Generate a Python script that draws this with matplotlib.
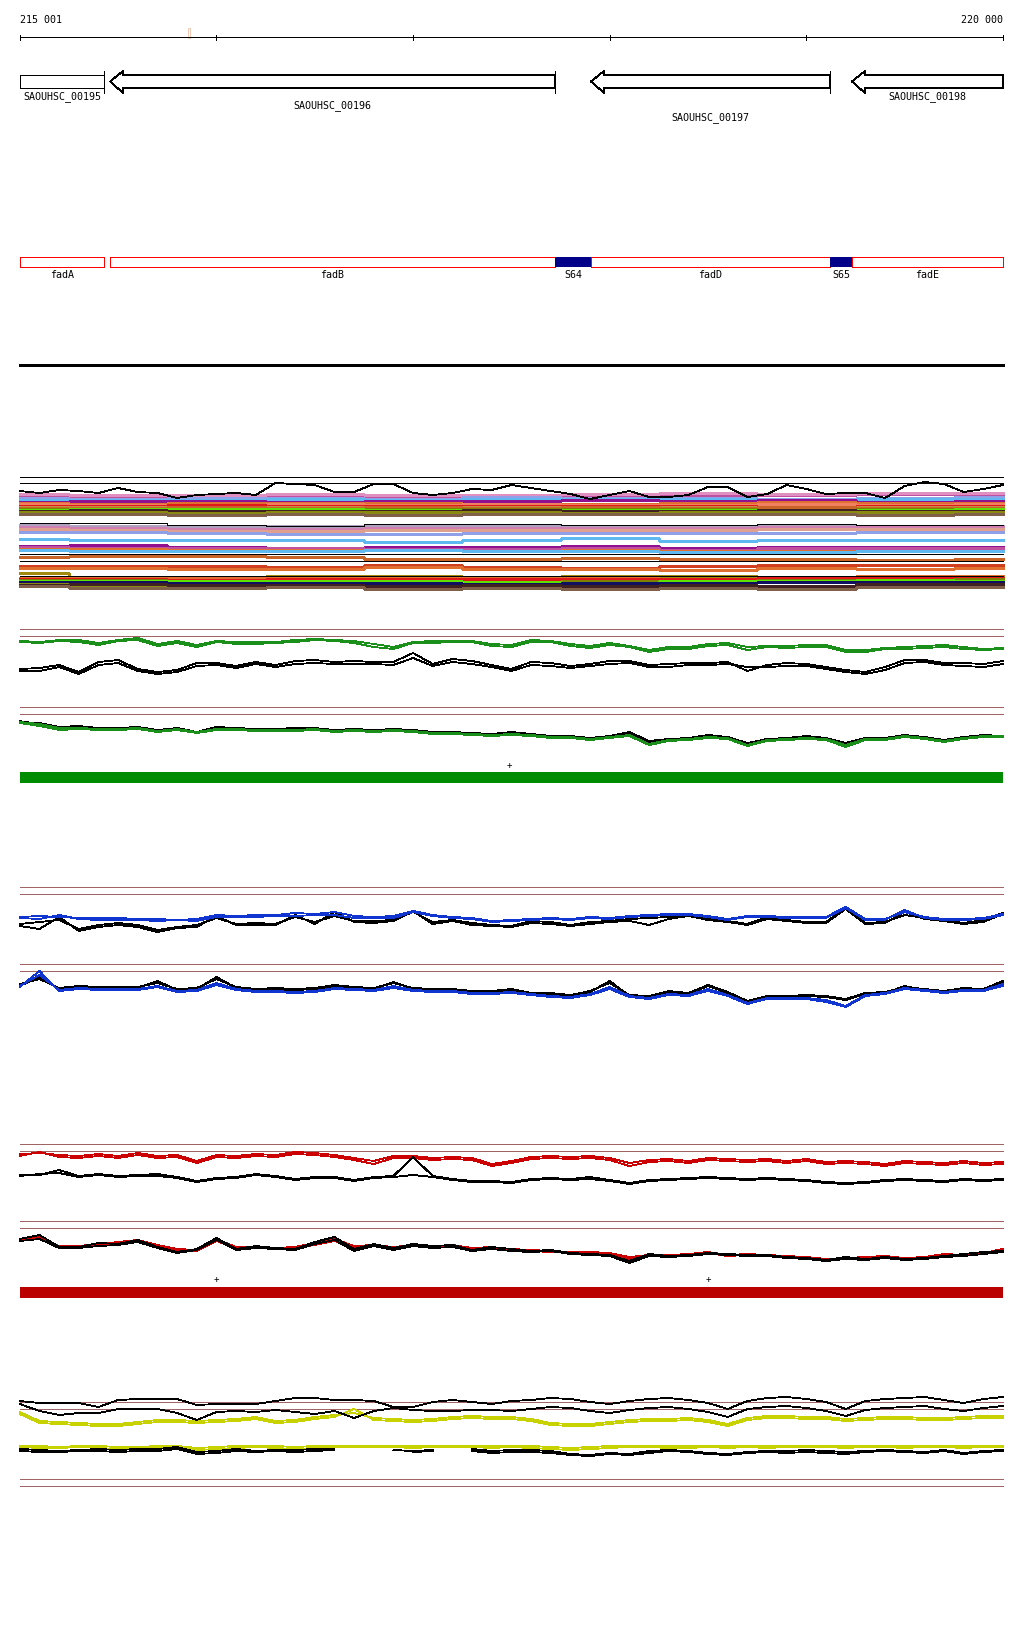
import numpy as np
import matplotlib
matplotlib.use('Agg')
import matplotlib.pyplot as plt
from matplotlib.patches import Rectangle, Polygon

plt.rcParams['font.family'] = ['DejaVu Sans Mono', 'DejaVu Sans']
FS = 7.2
LW = 0.6

# ---- view window / ruler ----
view_start = 215001
view_end = 220000
tick_pos = [216000, 217000, 218000, 219000]
marker_pos = 215860

# ---- genes (all reverse strand) ----
gene_names = ['SAOUHSC_00195', 'SAOUHSC_00196', 'SAOUHSC_00197', 'SAOUHSC_00198']
gene_start = [215001, 215459, 217905, 219232]
gene_end = [215428, 217722, 219120, 220000]
gene_tip = [False, True, True, True]     # arrow head inside the view
gene_bar = [True, True, True, False]     # start bar inside the view
gene_row = [0, 1, 2, 0]

# ---- annotation features ----
feat_names = ['fadA', 'fadB', 'S64', 'fadD', 'S65', 'fadE']
feat_start = [215001, 215459, 217722, 217905, 219120, 219232]
feat_end = [215428, 217722, 217905, 219120, 219232, 220000]
feat_kind = ['cds', 'cds', 'srna', 'cds', 'srna', 'cds']

# ---- coverage tracks, 100 bp bins (values in track rows) ----
wig_pos = np.arange(215000, 220001, 100)
nan = np.nan

cov_top = [492,494,491,492,494,489,493,494,499,496,495,494,496,484,485,486,493,493,485,485,494,496,494,490,491,
           486,489,492,495,500,496,492,498,498,496,488,488,498,495,486,490,495,494,494,499,487,483,485,493,490,486]

a1_green1 = [642,643,641,641,644,641,639,645,642,646,642,643,643,643,641,640,641,642,645,648,643,642,642,642,645,
             646,641,642,645,647,644,647,651,648,648,645,644,648,647,647,646,646,651,651,649,648,647,646,648,650,649]
a1_green2 = [643,644,642,643,646,642,641,647,644,648,643,645,645,644,643,641,642,644,648,650,644,644,643,643,647,
             648,643,643,647,649,646,648,653,650,650,647,646,651,648,649,648,648,653,653,650,650,649,648,650,651,650]
a1_black1 = [670,669,666,673,663,661,670,673,671,664,664,667,663,666,662,661,663,662,663,663,654,665,660,662,666,
             670,663,664,667,665,662,662,666,665,664,664,663,672,666,664,665,668,671,673,668,661,661,664,664,665,662]
a1_black2 = [672,672,668,675,666,664,672,675,673,667,666,669,665,668,665,664,665,665,665,666,659,667,663,665,668,
             672,666,667,669,667,665,664,668,668,666,666,665,668,668,667,667,670,673,675,671,664,663,666,667,668,665]

a2_black1 = [723,724,728,727,729,729,728,731,729,733,728,729,730,730,729,729,731,730,731,730,731,733,733,734,735,
             733,735,737,737,739,737,733,742,740,739,736,738,744,740,739,737,739,744,739,739,736,738,741,738,736,737]
a2_black2 = [722,726,730,728,730,731,729,733,731,734,729,731,731,731,730,730,733,731,732,731,732,734,735,736,736,
             734,736,738,739,741,738,735,744,741,741,737,739,747,742,740,738,740,747,740,740,737,740,743,739,737,738]
a2_green1 = [723,725,729,729,730,730,729,732,730,733,730,730,731,731,731,730,732,731,732,731,732,734,734,735,736,
             735,736,738,738,740,738,736,745,741,740,738,739,746,741,740,739,740,746,740,740,737,739,742,739,737,737]
a2_green2 = [724,727,731,730,731,731,730,733,731,734,731,731,732,732,732,731,733,732,733,732,733,735,735,736,737,
             736,737,739,739,741,739,737,746,742,741,739,740,747,742,741,740,741,748,741,741,738,740,743,740,738,738]

b1_blue1 = [918,917,918,919,919,919,920,920,921,920,916,917,916,916,914,915,913,917,918,917,912,916,918,919,922,
            921,920,919,920,918,919,917,916,915,915,917,920,917,917,918,918,918,908,920,920,913,918,920,920,919,915]
b1_blue2 = [919,920,916,920,921,921,921,922,921,922,918,918,918,917,917,916,916,919,919,919,913,917,919,920,923,
            922,921,920,921,919,920,918,917,916,916,918,921,918,918,919,919,919,909,921,921,911,919,921,921,920,916]
b1_black1 = [925,923,921,930,926,924,926,931,928,926,919,925,924,925,918,923,917,922,922,921,913,923,921,924,926,
             927,922,923,926,923,922,920,919,918,916,919,922,925,918,921,923,923,909,924,923,916,919,921,924,921,914]
b1_black2 = [927,930,918,932,928,926,928,933,929,928,917,926,926,926,916,925,913,923,924,922,912,925,922,926,927,
             928,924,925,927,925,923,922,926,920,917,921,923,926,920,922,924,924,910,925,924,913,920,922,925,923,915]

b2_black1 = [985,980,989,987,988,988,988,984,990,989,980,988,990,989,990,989,986,988,989,984,989,990,990,992,992,
             990,994,994,996,992,984,996,997,992,994,986,993,1002,997,997,996,997,1000,994,993,988,990,992,989,990,982]
b2_black2 = [987,978,990,988,989,989,989,982,991,990,978,989,991,991,991,990,987,989,990,983,990,991,991,993,993,
             991,995,995,997,993,982,997,998,993,995,987,994,1003,998,998,997,998,1001,995,994,987,991,993,990,991,983]
b2_blue1 = [987,976,991,989,990,990,990,987,992,991,984,990,992,992,993,992,989,990,991,987,991,992,992,994,994,
            993,995,997,998,995,988,997,999,995,996,990,996,1004,999,999,999,1001,1007,996,994,989,991,993,991,991,985]
b2_blue2 = [988,972,992,990,991,991,991,988,993,992,986,991,993,993,994,993,990,991,992,989,992,993,993,995,995,
            994,996,998,999,996,990,998,1000,996,997,992,997,1005,1000,1000,1000,1003,1008,997,995,990,992,994,992,992,987]

c1_red1 = [1155,1154,1156,1157,1155,1157,1154,1157,1156,1162,1156,1157,1155,1156,1153,1154,1156,1159,1162,1157,1157,
           1159,1158,1159,1165,1162,1158,1157,1158,1157,1159,1164,1161,1160,1162,1159,1160,1161,1160,1162,1160,1163,
           1162,1163,1165,1162,1163,1164,1162,1164,1163]
c1_red2 = [1157,1153,1158,1159,1157,1159,1156,1159,1158,1164,1158,1159,1157,1158,1155,1156,1158,1161,1165,1159,1159,
           1161,1160,1161,1167,1164,1160,1159,1160,1159,1161,1167,1163,1162,1164,1161,1162,1163,1162,1164,1162,1165,
           1164,1165,1167,1164,1165,1166,1164,1166,1165]
c1_black1 = [1176,1176,1171,1177,1175,1177,1176,1175,1178,1182,1179,1178,1175,1177,1180,1178,1178,1181,1178,1177,1158,
             1177,1180,1182,1182,1183,1180,1179,1180,1178,1181,1184,1181,1180,1179,1178,1179,1180,1179,1180,1181,1183,
             1184,1183,1181,1180,1181,1182,1180,1181,1180]
c1_black2 = [1177,1175,1174,1178,1176,1178,1177,1177,1179,1183,1180,1179,1176,1178,1181,1179,1179,1182,1179,1178,1176,
             1178,1181,1183,1183,1184,1181,1180,1181,1180,1182,1185,1182,1181,1180,1179,1180,1181,1180,1181,1182,1184,
             1185,1184,1182,1181,1182,1183,1181,1182,1181]

c2_red1 = [1240,1238,1247,1247,1245,1243,1241,1246,1250,1251,1240,1248,1248,1249,1248,1244,1240,1247,1246,1248,1246,
           1247,1246,1249,1248,1250,1251,1252,1253,1253,1254,1258,1256,1256,1255,1253,1256,1255,1256,1257,1258,1260,
           1259,1258,1257,1259,1258,1255,1256,1254,1250]
c2_red2 = [1241,1239,1248,1248,1246,1244,1242,1247,1251,1252,1242,1249,1249,1250,1249,1246,1242,1248,1247,1249,1247,
           1248,1247,1250,1249,1251,1252,1253,1254,1254,1255,1260,1257,1257,1256,1254,1257,1256,1257,1258,1259,1261,
           1260,1259,1258,1260,1259,1256,1257,1255,1251]
c2_black1 = [1240,1236,1248,1248,1244,1245,1241,1248,1253,1250,1239,1250,1247,1249,1250,1243,1238,1250,1245,1249,1245,
             1247,1246,1251,1248,1250,1252,1251,1254,1255,1256,1262,1255,1257,1256,1254,1255,1256,1256,1258,1259,1261,
             1258,1260,1258,1260,1259,1257,1255,1253,1252]
c2_black2 = [1242,1240,1249,1249,1247,1246,1243,1249,1254,1251,1241,1251,1249,1250,1251,1245,1241,1252,1247,1251,1247,
             1249,1248,1252,1250,1252,1253,1252,1255,1256,1257,1264,1257,1258,1257,1255,1256,1257,1257,1259,1260,1262,
             1260,1261,1259,1261,1260,1258,1257,1255,1253]

d1_black1 = [1402,1404,1404,1404,1408,1401,1400,1400,1400,1406,1405,1405,1405,1402,1399,1399,1401,1401,1402,1408,1408,
             1403,1401,1403,1405,1402,1401,1399,1400,1403,1405,1402,1400,1399,1401,1404,1410,1402,1399,1398,1400,1403,
             1410,1402,1400,1399,1398,1401,1404,1400,1398]
d1_black2 = [1405,1412,1416,1414,1414,1410,1410,1410,1414,1421,1413,1412,1413,1411,1413,1415,1412,1419,1412,1409,1411,
             1412,1412,1411,1411,1412,1410,1408,1409,1412,1414,1411,1409,1408,1410,1413,1418,1410,1408,1407,1409,1412,
             1417,1411,1409,1408,1407,1410,1412,1409,1407]
d1_yellow1 = [1413,1422,1423,1424,1425,1425,1423,1421,1421,1422,1421,1420,1418,1422,1421,1418,1416,1414,1419,1420,1421,
              1420,1418,1417,1418,1418,1420,1424,1425,1425,1423,1421,1420,1420,1419,1421,1425,1419,1417,1417,1418,1418,
              1420,1419,1418,1418,1419,1419,1418,1417,1417]
d1_yellow2 = [1415,1424,1425,1426,1427,1427,1425,1423,1423,1424,1423,1422,1420,1424,1423,1420,1418,1410,1421,1422,1423,
              1422,1420,1419,1420,1420,1422,1426,1427,1427,1425,1423,1422,1422,1421,1423,1427,1421,1419,1419,1420,1420,
              1422,1421,1420,1420,1421,1421,1420,1419,1419]

d2_yellow1 = [1447,1447,1448,1447,1447,1448,1448,1447,1447,1449,1448,1447,1447,1447,1448,1447,1447,1447,1447,1447,1447,
              1447,1447,1447,1447,1447,1447,1448,1449,1448,1447,1447,1447,1447,1447,1447,1447,1447,1447,1447,1447,1447,
              1447,1447,1447,1447,1447,1447,1447,1447,1447]
d2_yellow2 = [1448,1449,1449,1448,1449,1450,1449,1448,1449,1451,1450,1449,1448,1449,1450,1449,1448,1448,1448,1448,1449,
              1448,1448,1448,1449,1448,1449,1450,1451,1450,1449,1448,1448,1449,1449,1448,1449,1448,1449,1448,1448,1448,
              1449,1448,1448,1449,1448,1448,1449,1448,1448]
d2_black1 = [1450,1451,1452,1451,1450,1451,1450,1450,1448,1453,1452,1450,1452,1451,1451,1450,1450,nan,nan,1451,1452,
             1451,nan,1450,1452,1451,1451,1452,1455,1456,1454,1455,1452,1451,1452,1454,1455,1453,1452,1452,1451,1452,
             1453,1452,1451,1452,1453,1451,1454,1452,1451]
d2_black2 = [1452,1453,1453,1452,1452,1453,1452,1452,1450,1455,1454,1452,1453,1452,1453,1452,1451,nan,nan,nan,1453,
             1452,nan,1452,1454,1453,1453,1454,1456,1457,1455,1456,1454,1452,1453,1455,1456,1454,1453,1454,1453,1454,
             1455,1453,1452,1453,1454,1452,1455,1453,1452]

# ---- multi-sample lines, 500 bp bins ----
band_pos = np.arange(215000, 220001, 500)
band_colors = ['#c050a0', '#e090c0', '#90a0e8', '#60b8f0', '#901090', '#e07030', '#f08060', '#e01818',
               '#c09040', '#c86428', '#808000', '#60e000', '#402020', '#8a8a10', '#806048',
               '#b0a0c0', '#d080b0', '#e0a090', '#90a0e8', '#60b8f0', '#901090', '#c050a0', '#e07030', '#60b8f0',
               '#c86428', '#d04020', '#e07030',
               '#a08a10', '#e07030', '#e01818', '#808000', '#60e000', '#101060', '#8a8a10', '#402020', '#806048']
band_levels = [
    [497,498,497,496,497,497,497,497,496,495,495],
    [495,496,496,495,496,496,495,494,495,494,494],
    [499,500,499,499,500,498,499,499,500,499,498],
    [501,501,501,500,501,500,500,500,501,500,500],
    [503,502,502,503,502,502,501,502,501,503,502],
    [504,505,504,504,504,505,505,504,503,504,504],
    [505,506,506,505,506,505,506,506,505,506,505],
    [507,507,506,507,507,507,507,507,508,507,507],
    [508,508,509,508,509,508,509,508,509,508,508],
    [509,509,508,509,508,509,508,509,508,509,509],
    [510,510,511,511,510,510,510,510,511,510,510],
    [511,510,510,510,511,511,511,511,511,511,510],
    [512,511,512,512,512,511,512,512,511,512,512],
    [513,513,514,513,513,513,514,513,513,513,513],
    [515,515,516,515,516,515,515,515,515,516,515],
    [526,527,527,527,527,527,527,527,527,527,527],
    [528,529,530,530,529,529,529,529,528,528,528],
    [530,531,532,532,531,531,531,531,530,530,530],
    [533,533,534,535,535,534,534,534,534,533,533],
    [540,541,541,541,543,541,539,542,541,541,541],
    [547,546,548,549,548,548,547,549,548,548,548],
    [548,549,549,549,550,550,549,551,549,549,549],
    [550,550,551,551,551,552,551,552,552,552,552],
    [551,552,552,552,551,552,552,553,553,552,552],
    [558,557,557,558,560,560,559,560,560,561,560],
    [567,567,567,568,566,568,569,567,566,566,566],
    [569,569,570,570,568,570,570,571,569,570,569],
    [574,578,578,577,577,578,577,577,578,577,578],
    [579,579,579,578,579,578,579,580,578,577,577],
    [580,580,581,580,580,580,580,580,579,579,579],
    [581,581,582,582,583,583,582,583,581,581,580],
    [582,582,582,582,582,583,584,582,582,581,582],
    [583,583,584,584,584,585,584,584,583,583,583],
    [585,587,587,588,588,588,590,589,588,587,587],
    [586,585,586,586,587,586,587,586,587,585,585],
    [587,589,589,588,590,589,590,589,590,588,588]]
band_black = [524,524,526,527,525,525,526,526,525,526,526]

# ---- layout (figure rows) ----
W, H = 1024, 1640
LEFT, RIGHT = 20, 1003
ruler_y = 38
gene_y = (76, 89)
gene_head = (72, 94)
gene_label_y = [97, 106, 118]
feat_y = (258, 268)
feat_label_y = 275
sep_y = 366
black_rules = [478, 484, 555, 562, 577]
brown_rules = [630, 637, 708, 715, 888, 895, 965, 972, 1145, 1152, 1222, 1229, 1403, 1410, 1480, 1487]
green_bar = (773, 784)
red_bar = (1288, 1299)
plus_marks = [(217490, 766), (216000, 1280), (218500, 1280)]

GREEN = '#1a8f1a'
BLUE = '#1035d0'
RED = '#cc0000'
YELLOW = '#c8d200'
BROWN = '#a06464'

fig = plt.figure(figsize=(W / 100, H / 100), dpi=100)
ax = fig.add_axes([0, 0, 1, 1])
k = (view_end - view_start) / float(RIGHT - LEFT)
ax.set_xlim(view_start - LEFT * k, view_start + (W - LEFT) * k)
ax.set_ylim(H, 0)
ax.axis('off')

def hline(y, color, lw=LW):
    ax.plot([view_start, view_end], [y, y], color=color, lw=lw, antialiased=False)

# ruler
hline(ruler_y, 'k')
for t in [view_start] + tick_pos + [view_end]:
    ax.plot([t, t], [ruler_y - 2, ruler_y + 3], color='k', lw=LW, antialiased=False)
ax.add_patch(Rectangle((marker_pos - 5, 29), 10, 10, fill=False, ec='#f0c0a8', lw=LW))
ax.text(view_start, 20, '215 001', ha='left', va='center', fontsize=FS)
ax.text(view_end, 20, '220 000', ha='right', va='center', fontsize=FS)

# genes
hl = 13 * k
ymid = (gene_y[0] + gene_y[1]) / 2.0
for name, s, e, tip, bar, row in zip(gene_names, gene_start, gene_end, gene_tip, gene_bar, gene_row):
    if tip:
        pts = [(s, ymid), (s + hl, gene_head[0]), (s + hl, gene_y[0]), (e, gene_y[0]),
               (e, gene_y[1]), (s + hl, gene_y[1]), (s + hl, gene_head[1])]
    else:
        pts = [(s, gene_y[0]), (e, gene_y[0]), (e, gene_y[1]), (s, gene_y[1])]
    ax.add_patch(Polygon(pts, closed=True, fc='white', ec='k', lw=LW, antialiased=False))
    if bar:
        ax.plot([e, e], gene_head, color='k', lw=LW, antialiased=False)
    ax.text((s + e) / 2.0, gene_label_y[row], name, ha='center', va='center', fontsize=FS)

# features
for name, s, e, kind in zip(feat_names, feat_start, feat_end, feat_kind):
    if kind == 'srna':
        ax.add_patch(Rectangle((s, feat_y[0]), e - s, feat_y[1] - feat_y[0], fc='#000088', ec='none'))
    else:
        ax.add_patch(Rectangle((s, feat_y[0]), e - s, feat_y[1] - feat_y[0], fc='white', ec='#ff0000',
                               lw=LW, antialiased=False))
    ax.text((s + e) / 2.0, feat_label_y, name, ha='center', va='center', fontsize=FS)

hline(sep_y, 'k', lw=0.8)

# multi-sample lines
for c, lev in zip(band_colors, band_levels):
    ax.plot(band_pos, lev, color=c, lw=0.9, drawstyle='steps-mid', antialiased=False)
ax.plot(band_pos, band_black, color='k', lw=LW, drawstyle='steps-mid', antialiased=False)
for y in black_rules:
    hline(y, 'k')
ax.plot(wig_pos, cov_top, color='k', lw=LW, antialiased=False)

# panel rules
for y in brown_rules:
    hline(y, BROWN)

def wig(vals, color):
    ax.plot(wig_pos, vals, color=color, lw=LW, antialiased=False)

for v in [a1_black1, a1_black2, a2_black1, a2_black2]:
    wig(v, 'k')
for v in [a1_green1, a1_green2, a2_green1, a2_green2]:
    wig(v, GREEN)
for v in [b1_black1, b1_black2, b2_black1, b2_black2]:
    wig(v, 'k')
for v in [b1_blue1, b1_blue2, b2_blue1, b2_blue2]:
    wig(v, BLUE)
for v in [c1_red1, c1_red2, c2_red1, c2_red2]:
    wig(v, RED)
for v in [c1_black1, c1_black2, c2_black1, c2_black2]:
    wig(v, 'k')
for v in [d1_yellow1, d1_yellow2, d2_yellow1, d2_yellow2]:
    wig(v, YELLOW)
for v in [d1_black1, d1_black2, d2_black1, d2_black2]:
    wig(v, 'k')

# strand bars
ax.add_patch(Rectangle((view_start, green_bar[0]), view_end - view_start, green_bar[1] - green_bar[0],
                       fc='#008c00', ec='none'))
ax.add_patch(Rectangle((view_start, red_bar[0]), view_end - view_start, red_bar[1] - red_bar[0],
                       fc='#bb0000', ec='none'))
for px, py in plus_marks:
    ax.text(px, py, '+', ha='center', va='center', fontsize=6.5)

fig.savefig('out.png', dpi=100)
